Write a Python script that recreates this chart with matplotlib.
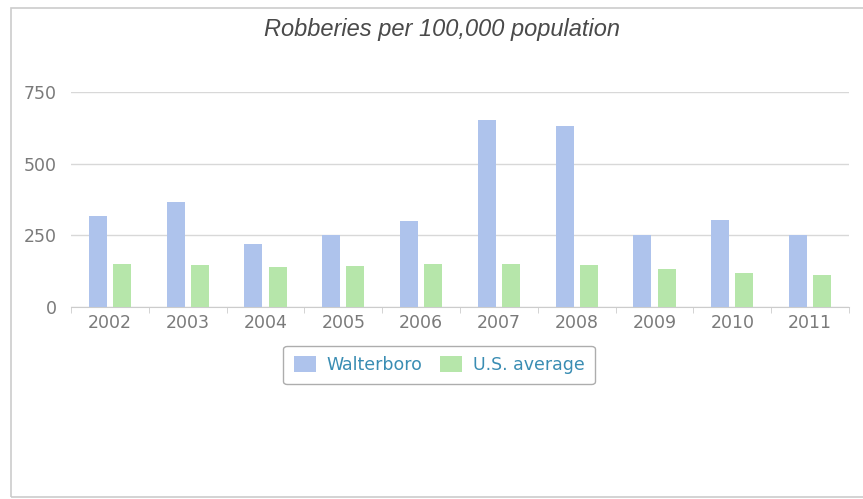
import matplotlib.pyplot as plt
import numpy as np
from matplotlib.patches import Rectangle

years = ["2002", "2003", "2004", "2005", "2006", "2007", "2008", "2009", "2010", "2011"]
walterboro = [318, 366, 219, 250, 301, 653, 633, 251, 303, 251]
us_average = [150, 145, 140, 143, 149, 148, 147, 132, 117, 111]

blue = "#aec3ec"
green = "#b6e6aa"
grey = "#7a7a7a"

fig = plt.figure(figsize=(8.63, 4.99), dpi=100)
ax = fig.add_axes([71 / 863, (499 - 306.7) / 499, 778 / 863, 214.4 / 499])

x = np.arange(len(years))
w = 0.23
ax.bar(x - 0.155, walterboro, w, color=blue, label="Walterboro", zorder=3)
ax.bar(x + 0.155, us_average, w, color=green, label="U.S. average", zorder=3)

ax.set_xlim(-0.5, len(years) - 0.5)
ax.set_ylim(0, 750)
ax.set_yticks([0, 250, 500, 750])
ax.yaxis.grid(True, color="#d8d8d8", linewidth=1, zorder=0)

# x axis line with small ticks at category boundaries
for s in ["top", "right", "left"]:
    ax.spines[s].set_visible(False)
ax.spines["bottom"].set_color("#cccccc")
ax.set_xticks(np.arange(-0.5, len(years), 1), minor=True)
ax.set_xticks(x)
ax.set_xticklabels(years)
ax.tick_params(axis="x", which="major", length=0, pad=5, labelsize=12.5, labelcolor=grey)
ax.tick_params(axis="x", which="minor", length=4, color="#cccccc")
ax.tick_params(axis="y", length=0, pad=10, labelsize=12.5, labelcolor=grey)

fig.text(0.512, 0.94, "Robberies per 100,000 population", ha="center", va="center",
         fontsize=17, style="italic", family="Liberation Sans", color="#4a4a4a")

leg = ax.legend(loc="center", bbox_to_anchor=(439 / 863, (499 - 365) / 499),
                bbox_transform=fig.transFigure, ncol=2, frameon=True, fontsize=12.5,
                handlelength=1.3, handleheight=1.0, columnspacing=1.0, handletextpad=0.6,
                borderpad=0.6, labelcolor="#3a8db3", fancybox=True)
leg.get_frame().set_edgecolor("#999999")
leg.get_frame().set_linewidth(1)

# outer border of the chart
fig.patches.append(Rectangle((11 / 863, 2 / 499), 860 / 863, 489 / 499, transform=fig.transFigure,
                             fill=False, edgecolor="#cccccc", linewidth=1.2))

fig.savefig("out.png", dpi=100)
